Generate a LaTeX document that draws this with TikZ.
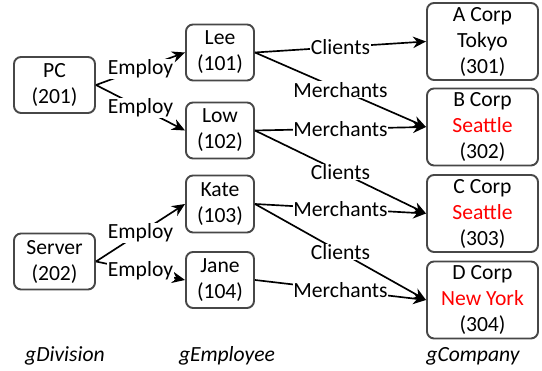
\documentclass[tikz,border=0pt]{standalone}
\usepackage{fontspec}
\setmainfont{Carlito}
\usepackage{tikz}
\usetikzlibrary{positioning,arrows.meta}
\usepackage{xcolor}

\begin{document}
\begin{tikzpicture}[>={Stealth[length=2.6mm,width=2.3mm]},
  font=\fontsize{12.3}{14.8}\selectfont,
  box/.style={draw=black!72,line width=1.1pt,rounded corners=4pt,align=center,inner sep=0pt},
  rel/.style={->,line width=0.95pt},
  lbl/.style={midway,fill=white,inner sep=0.5pt}]
\useasboundingbox (0,0) rectangle (10.84,7.42);
\node[box,minimum width=1.62cm,minimum height=1.12cm] (PC) at (1.09,5.72) {PC\\(201)};
\node[box,minimum width=1.62cm,minimum height=1.12cm] (Server) at (1.09,2.19) {Server\\(202)};
\node[box,minimum width=1.36cm,minimum height=1.12cm] (Lee) at (4.40,6.37) {Lee\\(101)};
\node[box,minimum width=1.36cm,minimum height=1.12cm] (Low) at (4.40,4.81) {Low\\(102)};
\node[box,minimum width=1.36cm,minimum height=1.14cm] (Kate) at (4.40,3.34) {Kate\\(103)};
\node[box,minimum width=1.36cm,minimum height=1.12cm] (Jane) at (4.40,1.82) {Jane\\(104)};
\node[box,minimum width=2.22cm,minimum height=1.54cm] (A) at (9.65,6.59) {A Corp\\Tokyo\\(301)};
\node[box,minimum width=2.22cm,minimum height=1.54cm] (B) at (9.65,4.88) {B Corp\\\textcolor{red}{Seattle}\\(302)};
\node[box,minimum width=2.22cm,minimum height=1.54cm] (C) at (9.65,3.15) {C Corp\\\textcolor{red}{Seattle}\\(303)};
\node[box,minimum width=2.22cm,minimum height=1.54cm] (D) at (9.65,1.42) {D Corp\\\textcolor{red}{New York}\\(304)};
\node[font=\fontsize{12.3}{14.8}\selectfont\itshape] (gDiv) at (1.30,0.30) {gDivision};
\node[font=\fontsize{12.3}{14.8}\selectfont\itshape] (gEmp) at (4.54,0.30) {gEmployee};
\node[font=\fontsize{12.3}{14.8}\selectfont\itshape] (gCom) at (9.46,0.30) {gCompany};
\draw[rel] (PC.east) -- (Lee.west) node[lbl]{Employ};
\draw[rel] (PC.east) -- (Low.west) node[lbl]{Employ};
\draw[rel] (Server.east) -- (Kate.west) node[lbl]{Employ};
\draw[rel] (Server.east) -- (Jane.west) node[lbl]{Employ};
\draw[rel] (Lee.east) -- (A.west) node[lbl]{Clients};
\draw[rel] (Lee.east) -- (B.west) node[lbl]{Merchants};
\draw[rel] (Low.east) -- (B.west) node[lbl]{Merchants};
\draw[rel] (Low.east) -- (C.west) node[lbl]{Clients};
\draw[rel] (Kate.east) -- (C.west) node[lbl]{Merchants};
\draw[rel] (Kate.east) -- (D.west) node[lbl]{Clients};
\draw[rel] (Jane.east) -- (D.west) node[lbl]{Merchants};
\end{tikzpicture}
\end{document}
